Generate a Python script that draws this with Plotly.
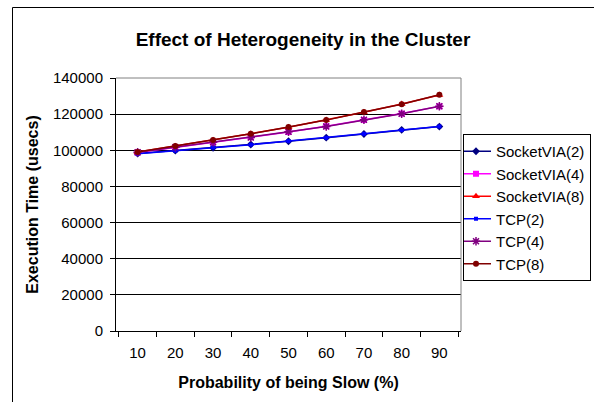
import plotly.graph_objects as go

# ---- data ----
probability = ["10", "20", "30", "40", "50", "60", "70", "80", "90"]
socketvia_2 = [98200, 99800, 101400, 103200, 105000, 107000, 109000, 111300, 113100]
socketvia_4 = [98800, 101600, 104300, 107200, 110100, 113300, 116800, 120300, 124300]
socketvia_8 = [99000, 102300, 105600, 109200, 112800, 116800, 121100, 125600, 130600]
tcp_2 = [98100, 99700, 101500, 103100, 105100, 106900, 109100, 111200, 113200]
tcp_4 = [98900, 101700, 104400, 107100, 110200, 113200, 116900, 120200, 124400]
tcp_8 = [99100, 102400, 105700, 109100, 112900, 116700, 121200, 125500, 130700]

series_names = ["SocketVIA(2)", "SocketVIA(4)", "SocketVIA(8)", "TCP(2)", "TCP(4)", "TCP(8)"]
series_values = [socketvia_2, socketvia_4, socketvia_8, tcp_2, tcp_4, tcp_8]

# ---- styles ----
styles = [
    dict(color="#000080", symbol="diamond", size=6),
    dict(color="#FF00FF", symbol="square", size=6),
    dict(color="#FF0000", symbol="triangle-up", size=7),
    dict(color="#0000FF", symbol="square", size=4),
    dict(color="#800080", symbol="asterisk-open", size=7),
    dict(color="#800000", symbol="circle", size=6),
]

FONT = "Arial, Liberation Sans, sans-serif"
W, H = 594, 402
L, R, T, B = 116, 133, 78, 71
PW, PH = W - L - R, H - T - B

fig = go.Figure()
for name, vals, st in zip(series_names, series_values, styles):
    marker = dict(symbol=st["symbol"], size=st["size"], color=st["color"])
    if st["symbol"].endswith("open"):
        marker["line"] = dict(color=st["color"], width=1.5)
    fig.add_trace(go.Scatter(
        x=probability, y=vals, name=name, mode="lines+markers",
        line=dict(color=st["color"], width=1.5),
        marker=marker,
    ))

fig.update_layout(
    width=W, height=H,
    margin=dict(l=L, r=R, t=T, b=B, autoexpand=False),
    paper_bgcolor="white", plot_bgcolor="white",
    font=dict(family=FONT, color="black", size=15),
    title=dict(
        text="<b>Effect of Heterogeneity in the Cluster</b>",
        font=dict(family=FONT, size=19, color="black"),
        x=303 / W, xref="container", xanchor="center",
        y=1 - 39 / H, yref="container", yanchor="middle",
    ),
    showlegend=True,
    legend=dict(
        x=(463 - L) / PW, xanchor="left",
        y=(H - B - 134) / PH, yanchor="top",
        bordercolor="black", borderwidth=1,
        font=dict(family=FONT, size=15, color="black"),
        bgcolor="white",
        itemwidth=30,
        indentation=-8,
        tracegroupgap=0,
    ),
    xaxis=dict(
        type="category",
        tickson="boundaries",
        ticks="outside", ticklen=5, tickcolor="black", tickwidth=1,
        showline=True, linecolor="black", linewidth=1,
        showgrid=False, zeroline=False,
        ticklabelstandoff=8,
        tickfont=dict(size=15),
        title=dict(text="<b>Probability of being Slow (%)</b>",
                   font=dict(size=16), standoff=16),
    ),
    yaxis=dict(
        range=[0, 140000], dtick=20000, tickformat="d",
        ticks="outside", ticklen=5, tickcolor="black", tickwidth=1,
        showline=True, linecolor="black", linewidth=1,
        showgrid=True, gridcolor="black", gridwidth=1,
        zeroline=False,
        ticklabelstandoff=4,
        tickfont=dict(size=15),
        title=dict(text="<b>Execution Time (usecs)</b>",
                   font=dict(size=16), standoff=10),
    ),
    shapes=[
        # plot area top & right border (gray)
        dict(type="line", xref="paper", yref="paper", x0=0, x1=1, y0=1, y1=1,
             line=dict(color="#808080", width=1), layer="above"),
        dict(type="line", xref="paper", yref="paper", x0=1, x1=1, y0=0, y1=1,
             line=dict(color="#808080", width=1), layer="above"),
        # outer chart border
        dict(type="rect", xref="paper", yref="paper",
             x0=(12.5 - L) / PW, x1=(W + 10 - L) / PW,
             y0=(H - B - (H + 10)) / PH, y1=(H - B - 7.5) / PH,
             line=dict(color="black", width=1), fillcolor="rgba(0,0,0,0)",
             layer="above"),
    ],
)

fig.write_html("out.html", config={"displayModeBar": False},
               post_script="document.body.style.margin='0';")
